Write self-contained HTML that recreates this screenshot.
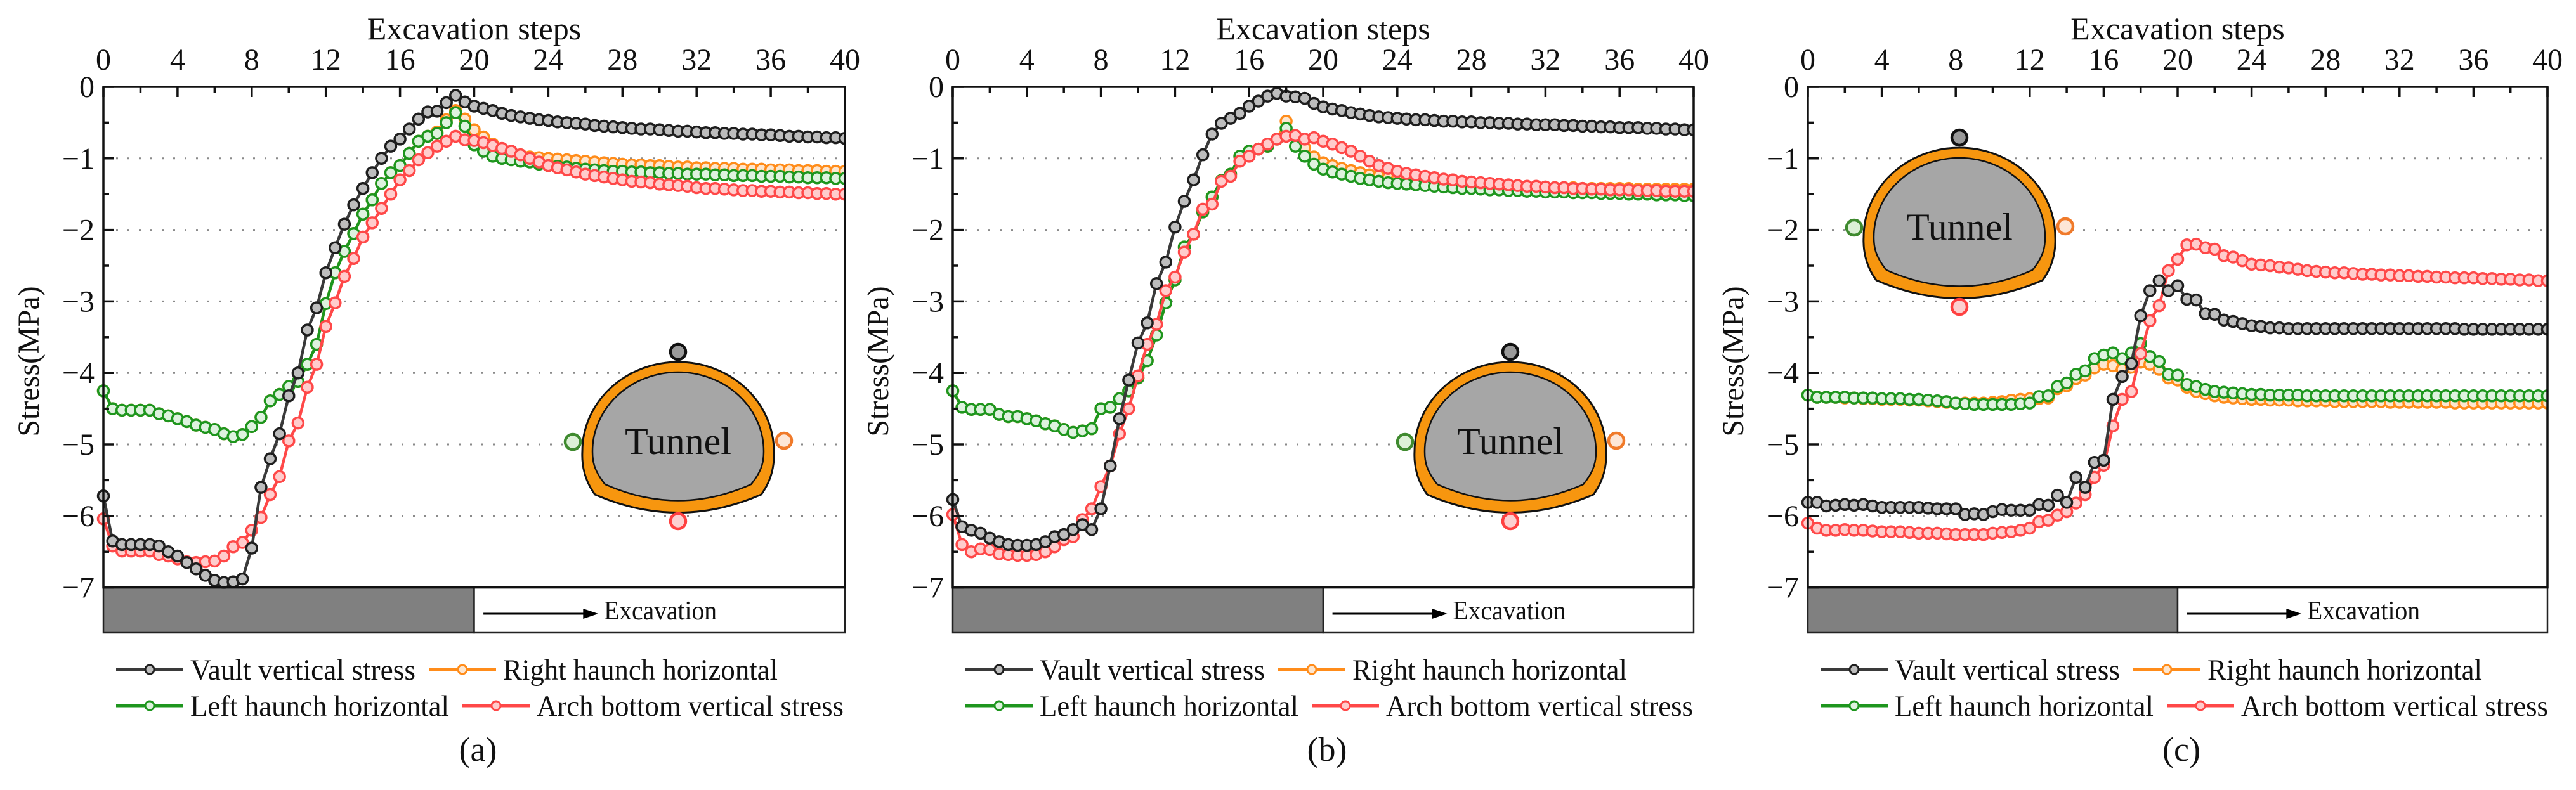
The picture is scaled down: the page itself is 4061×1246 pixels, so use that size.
<!DOCTYPE html>
<html><head><meta charset="utf-8"><style>
html,body{margin:0;padding:0;background:#fff;}
svg{display:block;font-family:"Liberation Serif","Times New Roman",serif;}
</style></head><body>
<svg id="fig" width="4061" height="1246" viewBox="0 0 4061 1246" xmlns="http://www.w3.org/2000/svg"></svg>
<script>
// ---------- DATA (steps 0..40 every 0.5) ----------
const xTicks = [0,4,8,12,16,20,24,28,32,36,40];
const yTicks = [0,-1,-2,-3,-4,-5,-6,-7];
const yTickLabels = ["0","\u22121","\u22122","\u22123","\u22124","\u22125","\u22126","\u22127"];
const seriesNames = ["Vault vertical stress","Right haunch horizontal","Left haunch horizontal","Arch bottom vertical stress"];
const panelLabels = ["(a)","(b)","(c)"];

const aVault = [-5.72,-6.35,-6.4,-6.4,-6.4,-6.4,-6.42,-6.5,-6.56,-6.65,-6.74,-6.83,-6.9,-6.93,-6.92,-6.88,
-6.45,-5.6,-5.2,-4.85,-4.32,-4.0,-3.4,-3.09,-2.6,-2.25,-1.92,-1.65,-1.42,-1.2,-1.0,-0.83,
-0.73,-0.59,-0.45,-0.35,-0.34,-0.22,-0.12,-0.21,-0.27,-0.3,-0.33,-0.37,-0.4,-0.42,-0.44,-0.46,
-0.47,-0.49,-0.5,-0.51,-0.52,-0.54,-0.55,-0.56,-0.57,-0.58,-0.59,-0.59,-0.6,-0.61,-0.62,-0.62,
-0.63,-0.64,-0.64,-0.65,-0.65,-0.66,-0.66,-0.67,-0.67,-0.68,-0.69,-0.69,-0.7,-0.7,-0.71,-0.71,-0.72];
const aLeft = [-4.25,-4.5,-4.52,-4.52,-4.52,-4.52,-4.57,-4.6,-4.64,-4.68,-4.73,-4.76,-4.79,-4.85,-4.89,-4.86,
-4.75,-4.62,-4.39,-4.3,-4.19,-4.12,-3.88,-3.6,-3.03,-2.6,-2.3,-2.05,-1.78,-1.58,-1.35,-1.2,
-1.1,-0.93,-0.76,-0.69,-0.65,-0.5,-0.36,-0.55,-0.81,-0.9,-0.97,-1.0,-1.02,-1.04,-1.05,-1.08,
-1.1,-1.11,-1.12,-1.14,-1.15,-1.16,-1.17,-1.18,-1.18,-1.19,-1.19,-1.2,-1.2,-1.21,-1.21,-1.22,
-1.22,-1.22,-1.23,-1.23,-1.24,-1.24,-1.24,-1.25,-1.25,-1.25,-1.26,-1.26,-1.27,-1.27,-1.27,-1.28,-1.28];
const aRight = [-4.25,-4.5,-4.52,-4.52,-4.52,-4.52,-4.57,-4.6,-4.64,-4.68,-4.73,-4.76,-4.79,-4.85,-4.89,-4.86,
-4.75,-4.62,-4.39,-4.3,-4.19,-4.12,-3.88,-3.6,-3.03,-2.6,-2.3,-2.05,-1.78,-1.58,-1.35,-1.2,
-1.1,-0.93,-0.76,-0.69,-0.63,-0.46,-0.33,-0.45,-0.6,-0.7,-0.8,-0.87,-0.92,-0.95,-0.98,-0.99,
-1.0,-1.01,-1.02,-1.03,-1.04,-1.05,-1.06,-1.07,-1.08,-1.09,-1.09,-1.1,-1.1,-1.11,-1.12,-1.12,
-1.13,-1.13,-1.14,-1.14,-1.14,-1.15,-1.15,-1.15,-1.16,-1.16,-1.16,-1.17,-1.17,-1.17,-1.18,-1.18,-1.18];
const aArch = [-6.04,-6.42,-6.49,-6.49,-6.49,-6.49,-6.54,-6.56,-6.6,-6.64,-6.65,-6.64,-6.63,-6.56,-6.43,-6.37,
-6.2,-6.02,-5.7,-5.45,-4.95,-4.7,-4.2,-3.88,-3.35,-3.02,-2.65,-2.4,-2.1,-1.9,-1.7,-1.5,
-1.3,-1.17,-1.02,-0.92,-0.83,-0.76,-0.69,-0.74,-0.75,-0.78,-0.82,-0.86,-0.9,-0.95,-1.0,-1.05,
-1.1,-1.13,-1.16,-1.19,-1.22,-1.24,-1.26,-1.28,-1.3,-1.32,-1.33,-1.34,-1.36,-1.37,-1.38,-1.39,
-1.41,-1.42,-1.42,-1.43,-1.44,-1.45,-1.45,-1.46,-1.46,-1.47,-1.47,-1.48,-1.48,-1.49,-1.49,-1.5,-1.5];

const bVault = [-5.77,-6.15,-6.2,-6.24,-6.31,-6.36,-6.4,-6.41,-6.41,-6.4,-6.36,-6.29,-6.26,-6.19,-6.12,-6.19,
-5.9,-5.3,-4.64,-4.1,-3.58,-3.3,-2.75,-2.45,-1.96,-1.6,-1.3,-0.95,-0.66,-0.51,-0.44,-0.37,
-0.27,-0.2,-0.13,-0.09,-0.13,-0.14,-0.16,-0.23,-0.28,-0.31,-0.33,-0.36,-0.38,-0.4,-0.42,-0.43,
-0.44,-0.45,-0.46,-0.46,-0.47,-0.48,-0.48,-0.49,-0.49,-0.5,-0.5,-0.51,-0.51,-0.52,-0.52,-0.53,
-0.53,-0.53,-0.54,-0.54,-0.55,-0.55,-0.56,-0.56,-0.57,-0.57,-0.57,-0.58,-0.58,-0.59,-0.59,-0.6,-0.6];
const bLeft = [-4.25,-4.48,-4.51,-4.51,-4.51,-4.58,-4.61,-4.61,-4.64,-4.67,-4.71,-4.74,-4.79,-4.83,-4.81,-4.78,
-4.5,-4.48,-4.36,-4.25,-4.07,-3.83,-3.47,-3.02,-2.7,-2.24,-2.06,-1.75,-1.54,-1.31,-1.22,-0.97,
-0.9,-0.87,-0.83,-0.73,-0.58,-0.83,-0.97,-1.08,-1.15,-1.19,-1.22,-1.25,-1.28,-1.3,-1.32,-1.34,
-1.35,-1.36,-1.37,-1.38,-1.39,-1.4,-1.41,-1.42,-1.42,-1.43,-1.44,-1.44,-1.45,-1.45,-1.46,-1.46,
-1.47,-1.47,-1.47,-1.48,-1.48,-1.48,-1.49,-1.49,-1.49,-1.5,-1.5,-1.5,-1.51,-1.51,-1.51,-1.52,-1.52];
const bRight = [-4.25,-4.48,-4.51,-4.51,-4.51,-4.58,-4.61,-4.61,-4.64,-4.67,-4.71,-4.74,-4.79,-4.83,-4.81,-4.78,
-4.5,-4.48,-4.36,-4.25,-4.07,-3.83,-3.47,-3.02,-2.7,-2.24,-2.06,-1.75,-1.54,-1.31,-1.22,-0.97,
-0.9,-0.87,-0.83,-0.73,-0.48,-0.7,-0.85,-0.98,-1.06,-1.1,-1.14,-1.17,-1.2,-1.23,-1.25,-1.27,
-1.29,-1.3,-1.32,-1.33,-1.34,-1.35,-1.36,-1.36,-1.37,-1.38,-1.38,-1.39,-1.39,-1.4,-1.4,-1.4,
-1.41,-1.41,-1.41,-1.41,-1.42,-1.42,-1.42,-1.42,-1.42,-1.42,-1.43,-1.43,-1.43,-1.43,-1.43,-1.43,-1.43];
const bArch = [-5.98,-6.4,-6.5,-6.46,-6.47,-6.53,-6.54,-6.55,-6.55,-6.54,-6.5,-6.43,-6.33,-6.29,-6.05,-5.9,
-5.59,-5.3,-4.85,-4.5,-4.04,-3.6,-3.32,-2.85,-2.66,-2.31,-2.06,-1.71,-1.64,-1.32,-1.25,-1.04,
-0.97,-0.87,-0.8,-0.73,-0.69,-0.68,-0.73,-0.71,-0.76,-0.8,-0.85,-0.9,-0.97,-1.04,-1.1,-1.14,
-1.18,-1.21,-1.23,-1.25,-1.27,-1.29,-1.3,-1.32,-1.33,-1.34,-1.35,-1.36,-1.37,-1.38,-1.39,-1.39,
-1.4,-1.41,-1.41,-1.42,-1.42,-1.43,-1.43,-1.44,-1.44,-1.44,-1.45,-1.45,-1.45,-1.46,-1.46,-1.46,-1.46];

const cVault = [-5.81,-5.81,-5.86,-5.85,-5.84,-5.85,-5.84,-5.86,-5.88,-5.88,-5.88,-5.88,-5.88,-5.89,-5.9,-5.9,
-5.9,-5.98,-5.97,-5.98,-5.94,-5.91,-5.92,-5.92,-5.92,-5.84,-5.85,-5.71,-5.81,-5.46,-5.6,-5.25,
-5.22,-4.37,-4.05,-3.87,-3.2,-2.85,-2.71,-2.85,-2.78,-2.97,-2.98,-3.17,-3.18,-3.26,-3.28,-3.31,
-3.34,-3.35,-3.37,-3.37,-3.38,-3.38,-3.38,-3.38,-3.38,-3.38,-3.38,-3.38,-3.38,-3.38,-3.38,-3.38,
-3.38,-3.38,-3.38,-3.38,-3.38,-3.38,-3.38,-3.39,-3.39,-3.39,-3.39,-3.39,-3.39,-3.39,-3.39,-3.39,-3.39];
const cLeft = [-4.31,-4.34,-4.34,-4.34,-4.34,-4.35,-4.35,-4.35,-4.36,-4.36,-4.36,-4.37,-4.37,-4.38,-4.39,-4.4,
-4.42,-4.43,-4.44,-4.44,-4.44,-4.44,-4.44,-4.43,-4.42,-4.33,-4.32,-4.19,-4.14,-4.02,-3.97,-3.8,
-3.75,-3.72,-3.8,-3.72,-3.59,-3.77,-3.84,-4.02,-4.03,-4.16,-4.19,-4.23,-4.26,-4.27,-4.28,-4.29,
-4.3,-4.3,-4.31,-4.31,-4.31,-4.31,-4.32,-4.32,-4.32,-4.32,-4.32,-4.32,-4.32,-4.32,-4.32,-4.32,
-4.32,-4.32,-4.32,-4.32,-4.32,-4.32,-4.32,-4.32,-4.32,-4.32,-4.32,-4.32,-4.32,-4.32,-4.32,-4.32,-4.32];
const cRight = [-4.31,-4.34,-4.34,-4.34,-4.35,-4.35,-4.36,-4.36,-4.37,-4.37,-4.37,-4.38,-4.38,-4.39,-4.4,-4.41,
-4.42,-4.42,-4.42,-4.42,-4.41,-4.4,-4.38,-4.37,-4.36,-4.36,-4.35,-4.22,-4.18,-4.08,-4.03,-3.93,
-3.88,-3.9,-3.95,-3.92,-3.85,-3.88,-3.95,-4.07,-4.1,-4.2,-4.26,-4.29,-4.32,-4.34,-4.35,-4.36,
-4.37,-4.37,-4.38,-4.38,-4.38,-4.39,-4.39,-4.39,-4.39,-4.4,-4.4,-4.4,-4.4,-4.4,-4.4,-4.41,
-4.41,-4.41,-4.41,-4.41,-4.41,-4.41,-4.42,-4.42,-4.42,-4.42,-4.42,-4.42,-4.42,-4.42,-4.42,-4.42,-4.42];
const cArch = [-6.1,-6.17,-6.2,-6.2,-6.19,-6.2,-6.2,-6.21,-6.22,-6.22,-6.22,-6.23,-6.24,-6.24,-6.24,-6.25,
-6.26,-6.26,-6.26,-6.26,-6.24,-6.23,-6.22,-6.2,-6.17,-6.08,-6.06,-5.99,-5.94,-5.82,-5.7,-5.46,
-5.29,-4.74,-4.37,-4.26,-3.73,-3.27,-3.06,-2.57,-2.41,-2.21,-2.2,-2.25,-2.27,-2.36,-2.38,-2.43,
-2.48,-2.49,-2.5,-2.52,-2.53,-2.55,-2.57,-2.58,-2.59,-2.6,-2.6,-2.61,-2.62,-2.62,-2.63,-2.63,
-2.64,-2.64,-2.65,-2.65,-2.66,-2.66,-2.67,-2.67,-2.67,-2.68,-2.68,-2.69,-2.69,-2.7,-2.7,-2.71,-2.71];

// ---------- LAYOUT ----------
const NS = "http://www.w3.org/2000/svg";
const svg = document.getElementById('fig');
function mk(tag, attrs, parent){ const e=document.createElementNS(NS,tag); for(const k in attrs) e.setAttribute(k,attrs[k]); (parent||svg).appendChild(e); return e; }

const panels = [
  {left:163, right:1332, tunnel:[1069,697], data:[aVault,aRight,aLeft,aArch]},
  {left:1502, right:2670, tunnel:[2381,697], data:[bVault,bRight,bLeft,bArch]},
  {left:2850, right:4016, tunnel:[3089,359], data:[cVault,cRight,cLeft,cArch]}
];
const TOP=137, UNIT=112.8, BARBOT=998;
const styles = [
  {line:"#3a3a3a", fill:"#bdbdbd", stroke:"#1e1e1e"},
  {line:"#ff8c1a", fill:"#fde6cf", stroke:"#ff8c1a"},
  {line:"#1e961e", fill:"#def2de", stroke:"#1e961e"},
  {line:"#ff4848", fill:"#ffcccc", stroke:"#ff4848"}
];
const drawOrder = [1,2,3,0];

panels.forEach((p, pi) => {
  const g = mk('g', {});
  
  
  const sx = v => p.left + (v/40)*(p.right-p.left);
  const sy = v => TOP - v*UNIT;
  const pw = p.right - p.left;

  for (let v=-1; v>=-6; v--) {
    const gl = mk('line', {x1:p.left+20, x2:p.right, y1:sy(v), y2:sy(v), stroke:"#8a8a8a", 'stroke-width':3, 'stroke-dasharray':"3 15"}, g);
    
    
  }
  const bar1 = mk('rect', {x:p.left, y:sy(-7), width:sx(20)-p.left, height:BARBOT-sy(-7), fill:"#808080", stroke:"#222", 'stroke-width':2.5}, g);
  
  
  const bar2 = mk('rect', {x:sx(20), y:sy(-7), width:p.right-sx(20), height:BARBOT-sy(-7), fill:"#fff", stroke:"#222", 'stroke-width':2.5}, g);
  
  
  const arr = mk('line', {x1:sx(20.5), x2:sx(26.2), y1:968, y2:968, stroke:"#000", 'stroke-width':3}, g);
  
  
  const ah = mk('polygon', {points:`${sx(26.7)},968 ${sx(26.7)-24},960 ${sx(26.7)-24},976`, fill:"#000"}, g);
  
  
  const et = mk('text', {x:sx(27.0), y:977, 'font-size':42, fill:"#111", textLength:178, lengthAdjust:'spacingAndGlyphs'}, g);
  et.textContent = "Excavation";
  
  

  const clipId = 'clip'+pi;
  const cp = mk('clipPath', {id:clipId}, g);
  mk('rect', {x:p.left-12, y:TOP-12, width:pw+12, height:sy(-7)-TOP+14}, cp);
  drawOrder.forEach(si => {
    const vals = p.data[si], st = styles[si];
    const sg = mk('g', {'clip-path':`url(#${clipId})`}, g);
    
    
    const pts = vals.map((v,i) => `${sx(i*0.5).toFixed(1)},${sy(v).toFixed(1)}`).join(' ');
    const pl = mk('polyline', {points:pts, fill:"none", stroke:st.line, 'stroke-width':4.5, 'stroke-linejoin':'round'}, sg);
    
    
    vals.forEach((v,i) => {
      const c = mk('circle', {cx:sx(i*0.5), cy:sy(v), r:8.5, fill:st.fill, stroke:st.stroke, 'stroke-width':3.5}, sg);
      
      
    });
  });

  const fr = mk('rect', {x:p.left, y:TOP, width:pw, height:sy(-7)-TOP, fill:"none", stroke:"#111", 'stroke-width':3.5}, g);
  
  

  for (let s=0; s<=40; s+=2) {
    const major = s%4===0;
    const t = mk('line', {x1:sx(s), x2:sx(s), y1:TOP, y2:TOP+(major?16:9), stroke:"#111", 'stroke-width':3.5}, g);
    
    
  }
  xTicks.forEach(s => {
    const t = mk('text', {x:sx(s), y:110, 'font-size':48, 'text-anchor':'middle', fill:"#111"}, g);
    t.textContent = String(s);
    
    
  });
  const xt = mk('text', {x:(p.left+p.right)/2, y:62, 'font-size':50, 'text-anchor':'middle', fill:"#111"}, g);
  xt.textContent = "Excavation steps";
  
  

  for (let v=0; v>=-7; v-=0.5) {
    const major = Number.isInteger(v);
    const t = mk('line', {x1:p.left, x2:p.left+(major?17:9), y1:sy(v), y2:sy(v), stroke:"#111", 'stroke-width':3.5}, g);
    
    
  }
  yTicks.forEach((v,i) => {
    const t = mk('text', {x:p.left-14, y:sy(v)+16, 'font-size':48, 'text-anchor':'end', fill:"#111"}, g);
    t.textContent = yTickLabels[i];
    
    
  });
  const yt = mk('text', {x:0, y:0, 'font-size':48, 'text-anchor':'middle', fill:"#111", transform:`translate(${p.left-102},570) rotate(-90)`}, g);
  yt.textContent = "Stress(MPa)";
  
  

  const tg = mk('g', {transform:`translate(${p.tunnel[0]},${p.tunnel[1]})`}, g);
  
  
  mk('path', {d:"M -131,83 C -148,60 -152,35 -151,15 A 151 141 0 0 1 151,15 C 152,35 148,60 131,83 Q 0,140 -131,83 Z", fill:"#f7960f", stroke:"#111", 'stroke-width':3}, tg);
  mk('path', {d:"M -115,67 C -133,45 -135,30 -135,15 A 135 125 0 0 1 135,15 C 135,30 133,45 115,67 Q 0,118 -115,67 Z", fill:"#a6a6a6", stroke:"#111", 'stroke-width':2.5}, tg);
  const tt = mk('text', {x:0, y:19, 'font-size':60, 'text-anchor':'middle', fill:"#111"}, tg);
  tt.textContent = "Tunnel";
  
  
  [[0,-142,"#9a9a9a","#111"],[167,-2,"#fde6d6","#f07a2a"],[-166,0,"#dcf0d6","#3f8a2f"],[0,125,"#fcd0d0","#ff4040"]].forEach((m,mi) => {
    const c = mk('circle', {cx:m[0], cy:m[1], r:12, fill:m[2], stroke:m[3], 'stroke-width':4.5}, tg);
    
    
  });

  const L = p.left + 20;
  const rows = [[0,1],[2,3]];
  const rowY = [1056,1113];
  const col2 = [493, 546];
  rows.forEach((r, ri) => {
    r.forEach((si, ci) => {
      const x0 = ci===0 ? L : L + col2[ri];
      const lg = mk('g', {}, g);
      
      
      const st = styles[si];
      mk('line', {x1:x0, x2:x0+106, y1:rowY[ri], y2:rowY[ri], stroke:st.line, 'stroke-width':5}, lg);
      mk('circle', {cx:x0+53, cy:rowY[ri], r:7, fill:st.fill, stroke:st.stroke, 'stroke-width':3}, lg);
      const widths = [355, 433, 408, 484];
      const t = mk('text', {x:x0+117, y:rowY[ri]+16, 'font-size':47, fill:"#111", textLength:widths[si], lengthAdjust:'spacingAndGlyphs'}, lg);
      t.textContent = seriesNames[si];
    });
  });
  const pl = mk('text', {x:(p.left+p.right)/2+6, y:1200, 'font-size':54, 'text-anchor':'middle', fill:"#111"}, g);
  pl.textContent = panelLabels[pi];
  
  
});
</script>
</body></html>
